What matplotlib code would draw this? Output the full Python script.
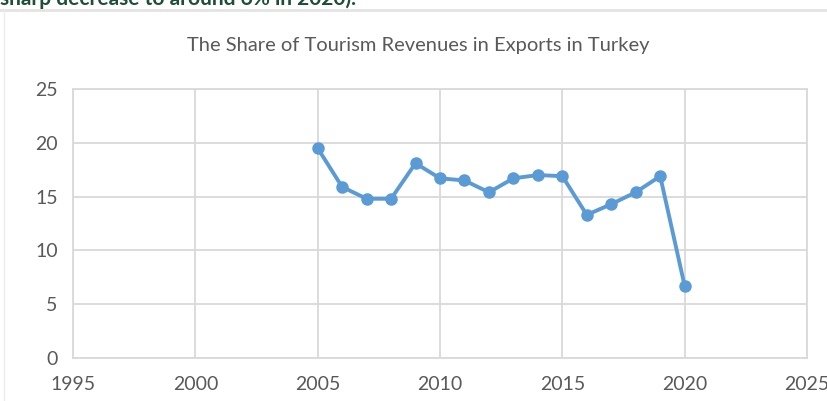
import matplotlib.pyplot as plt
from matplotlib.lines import Line2D

# data
years = [2005, 2006, 2007, 2008, 2009, 2010, 2011, 2012, 2013, 2014,
         2015, 2016, 2017, 2018, 2019, 2020]
share = [19.5, 15.9, 14.8, 14.8, 18.1, 16.7, 16.5, 15.4, 16.7, 17.0,
         16.9, 13.3, 14.3, 15.4, 16.9, 6.7]
x_ticks = [1995, 2000, 2005, 2010, 2015, 2020, 2025]
y_ticks = [0, 5, 10, 15, 20, 25]

title = "The Share of Tourism Revenues in Exports in Turkey"
caption = "sharp decrease to around 6% in 2020)."

plt.rcParams['font.family'] = ['Lato', 'DejaVu Sans']

W, H = 828, 401
fig = plt.figure(figsize=(W / 100, H / 100), dpi=100)
fig.patch.set_facecolor('white')

# cut-off sentence from the surrounding text, above the chart box
fig.text(0 / W, 1 - 5 / H, caption, color='#1f4e36', fontsize=15,
         fontweight='bold', ha='left', va='baseline')

# chart box edges (top and left visible)
fig.add_artist(Line2D([0, 1], [1 - 10 / H, 1 - 10 / H], color='#e3e3e3',
                      linewidth=2, transform=fig.transFigure))
fig.add_artist(Line2D([4 / W, 4 / W], [0, 1 - 10 / H], color='#ececec',
                      linewidth=1, transform=fig.transFigure))

ax = fig.add_axes([73 / W, 1 - 358 / H, (807 - 73) / W, (358 - 89) / H])
ax.plot(years, share, color='#5b9bd5', linewidth=2.8, marker='o',
        markersize=8, zorder=3)

ax.set_xlim(1995, 2025)
ax.set_ylim(0, 25)
ax.set_xticks(x_ticks)
ax.set_yticks(y_ticks)
ax.grid(True, color='#d9d9d9', linewidth=1.3)
ax.set_axisbelow(True)
for s in ax.spines.values():
    s.set_color('#d9d9d9')
    s.set_linewidth(1.3)
ax.tick_params(length=0, labelsize=14, labelcolor='#595959')
ax.tick_params(axis='x', pad=13)
ax.tick_params(axis='y', pad=11)

fig.text(418 / W, 1 - 46 / H, title, color='#595959', fontsize=14.5,
         ha='center', va='center')

fig.savefig('out.png', dpi=100)
